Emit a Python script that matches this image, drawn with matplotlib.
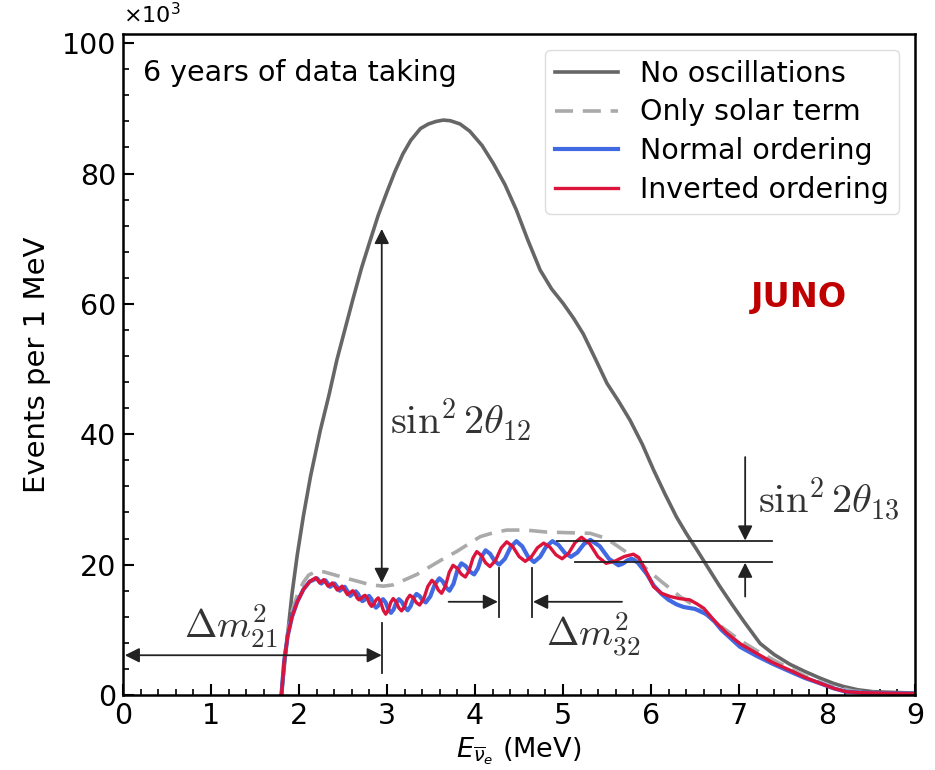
import numpy as np
import matplotlib
matplotlib.use("Agg")
import matplotlib.pyplot as plt
from matplotlib.ticker import MultipleLocator

# ---- data (events per MeV, in units of 1e3) ----
noosc_e = [1.80, 1.86, 1.92, 1.98, 2.05, 2.13, 2.24, 2.34, 2.43, 2.52, 2.61, 2.71,
           2.81, 2.90, 3.00, 3.09, 3.18, 3.27, 3.38, 3.47, 3.56, 3.64, 3.72, 3.83,
           3.94, 4.08, 4.21, 4.34, 4.47, 4.60, 4.74, 4.87, 5.00, 5.12, 5.23, 5.37,
           5.50, 5.63, 5.76, 5.90, 6.03, 6.16, 6.29, 6.40, 6.52, 6.64, 6.78, 6.92,
           7.06, 7.24, 7.40, 7.58, 7.75, 7.92, 8.07, 8.19, 8.35, 8.53, 8.75, 9.00]
noosc_y = [0.0, 8.0, 15.5, 21.5, 27.5, 33.5, 40.5, 46.0, 51.4, 56.0, 60.6, 65.5,
           69.8, 73.6, 77.2, 80.3, 83.0, 85.1, 86.9, 87.6, 88.0, 88.2, 88.1, 87.6,
           86.5, 84.3, 81.5, 78.3, 74.4, 69.8, 65.2, 62.3, 60.1, 57.8, 55.4, 51.5,
           47.8, 45.1, 42.2, 38.5, 34.5, 30.8, 27.3, 24.8, 22.3, 19.7, 16.7, 13.9,
           11.2, 7.9, 6.2, 4.7, 3.6, 2.6, 1.8, 1.3, 0.8, 0.5, 0.4, 0.3]

solar_e = [1.80, 1.83, 1.87, 1.92, 1.98, 2.05, 2.11, 2.20, 2.28, 2.41, 2.54, 2.68,
           2.81, 2.96, 3.07, 3.19, 3.34, 3.49, 3.64, 3.79, 3.93, 4.06, 4.21, 4.36,
           4.58, 4.81, 5.06, 5.31, 5.45, 5.57, 5.70, 5.84, 5.97, 6.10, 6.22, 6.33,
           6.47, 6.60, 6.80, 7.01, 7.25, 7.50, 7.75, 8.00, 8.30, 8.60, 9.00]
solar_y = [0.0, 5.2, 9.5, 12.8, 15.3, 17.3, 18.4, 19.0, 18.9, 18.4, 17.9, 17.4,
           16.9, 16.7, 16.9, 17.6, 18.5, 19.7, 20.9, 22.0, 23.2, 24.3, 24.9, 25.3,
           25.3, 25.0, 24.9, 24.8, 24.2, 23.3, 22.1, 20.7, 19.1, 17.6, 16.3, 15.1,
           13.9, 12.6, 10.5, 8.4, 6.4, 4.6, 2.9, 1.5, 0.6, 0.3, 0.2]

# normal ordering (blue)
no_e = [1.80, 1.83, 1.87, 1.92, 1.98, 2.05, 2.12,
        2.205, 2.253, 2.30, 2.352, 2.405, 2.463, 2.52, 2.582,
        2.645, 2.67, 2.695, 2.72, 2.745, 2.77, 2.795, 2.822, 2.848,
        2.875, 2.902, 2.928, 2.955, 2.985, 3.015, 3.045, 3.075, 3.105,
        3.135, 3.168, 3.202, 3.235, 3.268, 3.302, 3.335, 3.37, 3.405,
        3.44, 3.492, 3.543, 3.595, 3.633, 3.672, 3.71, 3.755, 3.80,
        3.845, 3.893, 3.942, 3.99, 4.033, 4.077, 4.12, 4.172, 4.223,
        4.275, 4.34, 4.405, 4.47, 4.537, 4.603, 4.67, 4.74, 4.81,
        4.88, 4.95, 5.02, 5.09, 5.163, 5.237, 5.31, 5.417, 5.523,
        5.63, 5.68, 5.73, 5.78, 5.85, 5.95, 6.03, 6.12, 6.20, 6.29,
        6.37, 6.50, 6.63, 6.72, 6.80, 7.01, 7.20, 7.38, 7.58, 7.75,
        7.92, 8.08, 8.22, 8.40, 8.60, 9.00]
no_y = [0.0, 5.0, 9.0, 12.0, 14.3, 16.2, 17.4,
        17.9, 17.1, 17.6, 16.6, 17.1, 16.0, 16.6, 15.2,
        15.9, 15.53, 14.78, 14.4, 14.6, 15.0, 15.2, 14.75, 13.85,
        13.4, 13.73, 14.38, 14.7, 14.18, 13.13, 12.6, 13.13, 14.18,
        14.7, 14.28, 13.43, 13.0, 13.63, 14.88, 15.5, 15.18, 14.53,
        14.2, 15.13, 16.98, 17.9, 17.43, 16.48, 16.0, 17.05, 19.15,
        20.2, 19.78, 18.93, 18.5, 19.43, 21.28, 22.2, 21.65, 20.55,
        20.0, 20.9, 22.7, 23.6, 22.8, 21.2, 20.4, 21.2, 22.8,
        23.6, 23.0, 21.8, 21.2, 21.85, 23.15, 23.8, 22.83, 20.88,
        19.9, 20.15, 20.65, 20.9, 20.3, 18.6, 16.8, 15.5, 14.6, 13.9,
        13.5, 13.2, 12.4, 11.3, 10.0, 7.4, 6.0, 4.8, 3.6, 2.6,
        1.8, 1.0, 0.5, 0.35, 0.3, 0.2]

# inverted ordering (red)
io_e = [1.80, 1.83, 1.87, 1.92, 1.98, 2.05, 2.12,
        2.19, 2.235, 2.28, 2.33, 2.38, 2.435, 2.49, 2.55,
        2.61, 2.633, 2.657, 2.68, 2.703, 2.727, 2.75, 2.775, 2.80,
        2.825, 2.85, 2.875, 2.90, 2.928, 2.957, 2.985, 3.013, 3.042,
        3.07, 3.102, 3.133, 3.165, 3.197, 3.228, 3.26, 3.297, 3.333,
        3.37, 3.417, 3.463, 3.51, 3.547, 3.583, 3.62, 3.663, 3.707,
        3.75, 3.797, 3.843, 3.89, 3.933, 3.977, 4.02, 4.07, 4.12,
        4.17, 4.233, 4.297, 4.36, 4.43, 4.50, 4.57, 4.64, 4.71,
        4.78, 4.85, 4.92, 4.99, 5.063, 5.137, 5.21, 5.303, 5.397,
        5.49, 5.593, 5.697, 5.80, 5.86, 5.92, 6.03, 6.12, 6.22, 6.32,
        6.44, 6.52, 6.60, 6.72, 6.86, 7.02, 7.20, 7.38, 7.58, 7.75,
        7.92, 8.08, 8.22, 8.40, 8.60, 9.00]
io_y = [0.0, 5.0, 9.0, 12.0, 14.3, 16.2, 17.4,
        18.0, 17.2, 17.7, 16.7, 17.2, 16.1, 16.7, 15.4,
        16.0, 15.65, 14.95, 14.6, 14.78, 15.13, 15.3, 14.88, 14.03,
        13.6, 13.93, 14.58, 14.9, 14.28, 13.03, 12.4, 13.0, 14.2,
        14.8, 14.33, 13.38, 12.9, 13.5, 14.7, 15.3, 14.93, 14.18,
        13.8, 14.75, 16.65, 17.6, 17.1, 16.1, 15.6, 16.68, 18.83,
        19.9, 19.45, 18.55, 18.1, 19.08, 21.03, 22.0, 21.43, 20.28,
        19.7, 20.65, 22.55, 23.5, 22.75, 21.25, 20.5, 21.2, 22.6,
        23.3, 22.7, 21.5, 20.9, 21.73, 23.38, 24.2, 23.2, 21.2,
        20.2, 20.55, 21.25, 21.6, 21.1, 19.6, 16.6, 15.6, 15.1, 14.8,
        14.6, 14.0, 13.3, 11.4, 9.5, 7.8, 6.4, 5.0, 3.8, 2.7,
        1.8, 1.0, 0.5, 0.35, 0.3, 0.2]

fig, ax = plt.subplots(figsize=(9.35, 7.7), dpi=100)
fig.subplots_adjust(left=0.1316, right=0.9786, top=0.9558, bottom=0.0974)

ax.plot(noosc_e, noosc_y, color="#666666", lw=2.6, label="No oscillations")
ax.plot(solar_e, solar_y, color="#aaaaaa", lw=2.6, ls=(0, (5, 2.7)), label="Only solar term")
ax.plot(no_e, no_y, color="#4169e1", lw=3.0, label="Normal ordering", solid_joinstyle="round")
ax.plot(io_e, io_y, color="#dc143c", lw=2.4, label="Inverted ordering", solid_joinstyle="round")

ax.set_xlim(0, 9)
ax.set_ylim(0, 101.4)
ax.xaxis.set_major_locator(MultipleLocator(1))
ax.xaxis.set_minor_locator(MultipleLocator(0.2))
ax.yaxis.set_major_locator(MultipleLocator(20))
ax.yaxis.set_minor_locator(MultipleLocator(4))
ax.tick_params(which="both", direction="in", labelsize=20.5)
ax.tick_params(which="major", length=8, width=1.5, pad=5)
ax.tick_params(which="minor", length=4, width=1.2)
for s in ax.spines.values():
    s.set_linewidth(1.8)

ax.set_xlabel(r"$E_{\overline{\nu}_e}$ (MeV)", fontsize=19.5, labelpad=4)
ax.set_ylabel("Events per 1 MeV", fontsize=21, labelpad=8)
ax.text(0.0, 1.01, r"$\times10^3$", transform=ax.transAxes, fontsize=16, va="bottom")

ax.text(0.025, 0.962, "6 years of data taking", transform=ax.transAxes, fontsize=20.5, va="top")
ax.text(7.68, 61, "JUNO", color="#c00000", fontsize=24, fontweight="bold", ha="center", va="center")

leg = ax.legend(loc="upper right", fontsize=20.5, handlelength=2.2, handletextpad=0.8,
                labelspacing=0.38, borderpad=0.35, borderaxespad=0.55, framealpha=1,
                edgecolor="#dddddd")
leg.get_frame().set_linewidth(1.0)

acol = "#222222"
ak = dict(arrowstyle="-|>", color=acol, lw=1.3, mutation_scale=22, shrinkA=0, shrinkB=0)
ak2 = dict(arrowstyle="<|-|>", color=acol, lw=1.3, mutation_scale=22, shrinkA=0, shrinkB=0)
mtxt = dict(color="#333333", math_fontfamily="cm", ha="center", va="center")

# sin^2 2theta12
ax.annotate("", xy=(2.94, 71.5), xytext=(2.94, 17.2), arrowprops=ak2)
ax.text(3.03, 42.2, r"$\sin^2 2\theta_{12}$", fontsize=29, **{**mtxt, "ha": "left"})

# Delta m^2_21
ax.annotate("", xy=(0.02, 6.1), xytext=(2.94, 6.1), arrowprops=ak2)
ax.plot([2.94, 2.94], [3.4, 11.0], color=acol, lw=1.3)
ax.text(1.22, 10.6, r"$\Delta m^2_{21}$", fontsize=28, **mtxt)

# Delta m^2_32
ax.plot([4.27, 4.27], [12.0, 19.5], color=acol, lw=1.3)
ax.plot([4.65, 4.65], [12.0, 19.5], color=acol, lw=1.3)
ax.annotate("", xy=(4.26, 14.3), xytext=(3.70, 14.3), arrowprops=ak)
ax.annotate("", xy=(4.66, 14.3), xytext=(5.67, 14.3), arrowprops=ak)
ax.text(5.34, 9.3, r"$\Delta m^2_{32}$", fontsize=28, **mtxt)

# sin^2 2theta13
ax.plot([4.93, 7.37], [23.6, 23.6], color=acol, lw=1.3)
ax.plot([5.14, 7.37], [20.4, 20.4], color=acol, lw=1.3)
ax.annotate("", xy=(7.07, 23.7), xytext=(7.07, 36.5), arrowprops=ak)
ax.annotate("", xy=(7.07, 20.3), xytext=(7.07, 15.1), arrowprops=ak)
ax.text(8.02, 30.0, r"$\sin^2 2\theta_{13}$", fontsize=29, **mtxt)

fig.savefig("out.png", dpi=100)
